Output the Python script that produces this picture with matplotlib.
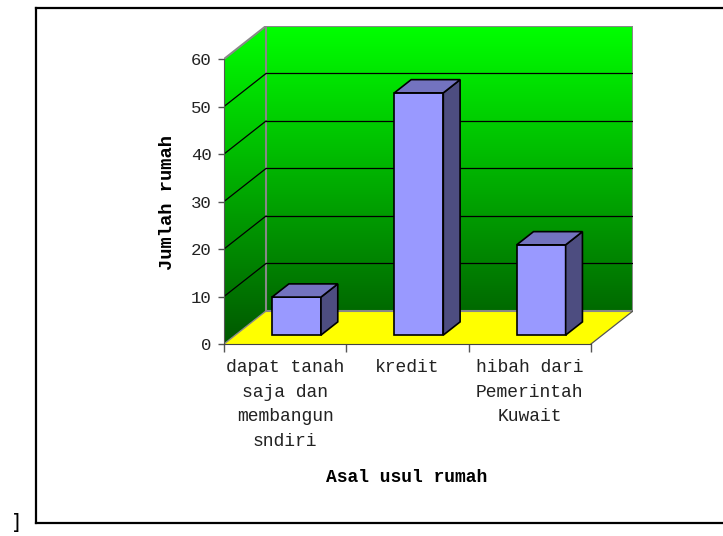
import matplotlib
matplotlib.use("Agg")
import matplotlib.pyplot as plt
from matplotlib.patches import Polygon
from matplotlib.lines import Line2D
from matplotlib.colors import LinearSegmentedColormap
import numpy as np

# --- data -------------------------------------------------------------
categories = ["dapat tanah\nsaja dan\nmembangun\nsndiri", "kredit",
              "hibah dari\nPemerintah\nKuwait"]
values = [8, 51, 19]
y_ticks = [0, 10, 20, 30, 40, 50, 60]
y_label = "Jumlah rumah"
x_label = "Asal usul rumah"

plt.rcParams["font.family"] = ["Liberation Mono", "DejaVu Sans"]

W, H = 723, 536
fig = plt.figure(figsize=(W / 100, H / 100), dpi=100)
ax = fig.add_axes([224 / W, 1 - 344 / H, (633 - 224) / W, (344 - 26) / H])

N = len(categories)
YMAX = y_ticks[-1]
DX = 0.3434      # depth offset in category units
DY = 6.95        # depth offset in value units
D0, D1 = 0.27, 0.67   # depth range of the bars
BW = 0.40             # bar width in category units


def P(x, v, d):
    """Oblique projection of (category x, value v, depth d)."""
    return (x + d * DX, v + d * DY)


ax.set_xlim(0, N + DX)
ax.set_ylim(0, YMAX + DY)

# --- walls and floor --------------------------------------------------
green = LinearSegmentedColormap.from_list("wall", ["#005800", "#00ff00"])
grad = np.linspace(0, 1, 256).reshape(-1, 1)

back = Polygon([P(0, 0, 1), P(N, 0, 1), P(N, YMAX, 1), P(0, YMAX, 1)],
               closed=True, facecolor="none", edgecolor="#888888", lw=1.5, zorder=2)
side = Polygon([P(0, 0, 0), P(0, 0, 1), P(0, YMAX, 1), P(0, YMAX, 0)],
               closed=True, facecolor="none", edgecolor="none", zorder=2)
for wall in (back, side):
    ax.add_patch(wall)
    im = ax.imshow(grad, extent=[0, N + DX, 0, YMAX + DY], origin="lower",
                   aspect="auto", cmap=green, zorder=1, interpolation="bilinear")
    im.set_clip_path(wall)

floor = Polygon([P(0, 0, 0), P(N, 0, 0), P(N, 0, 1), P(0, 0, 1)],
                closed=True, facecolor="#ffff00", edgecolor="none", zorder=1.5)
ax.add_patch(floor)
ax.plot(*zip(P(N, 0, 0), P(N, 0, 1)), color="#555555", lw=0.9, zorder=2)
ax.plot(*zip(P(0, 0, 0), P(0, 0, 1)), color="#888888", lw=1.0, zorder=2)
ax.plot(*zip(P(0, YMAX, 0), P(0, YMAX, 1)), color="#888888", lw=1.5, zorder=2)

# gridlines on back and side walls
for v in y_ticks[1:-1]:
    ax.plot(*zip(P(0, v, 1), P(N, v, 1)), color="black", lw=0.9, zorder=2)
    ax.plot(*zip(P(0, v, 0), P(0, v, 1)), color="black", lw=0.9, zorder=2)

# --- bars -------------------------------------------------------------
centers = [i + 0.5 for i in range(N)]
ax.bar([c + D0 * DX for c in centers], values, width=BW, bottom=D0 * DY,
       color="#9999ff", edgecolor="black", lw=1.2, zorder=5)
for c, h in zip(centers, values):
    xl, xr = c - BW / 2, c + BW / 2
    top = Polygon([P(xl, h, D0), P(xr, h, D0), P(xr, h, D1), P(xl, h, D1)],
                  closed=True, facecolor="#7373bf", edgecolor="black", lw=1.2, zorder=5)
    sd = Polygon([P(xr, 0, D0), P(xr, 0, D1), P(xr, h, D1), P(xr, h, D0)],
                 closed=True, facecolor="#4d4d80", edgecolor="black", lw=1.2, zorder=5)
    ax.add_patch(sd)
    ax.add_patch(top)

# --- axes -------------------------------------------------------------
for s in ("top", "right"):
    ax.spines[s].set_visible(False)
ax.spines["left"].set_bounds(0, YMAX)
ax.spines["bottom"].set_bounds(0, N)
ax.spines["left"].set_color("#555555")
ax.spines["bottom"].set_color("#444444")
ax.spines["left"].set_zorder(3)
ax.spines["bottom"].set_zorder(3)

ax.set_yticks(y_ticks)
ax.tick_params(axis="y", direction="out", length=4, width=1, color="#555555",
               pad=5, labelsize=12.5, labelcolor="#222222")
ax.set_xticks(range(N + 1))
ax.set_xticklabels([])
ax.tick_params(axis="x", which="major", direction="out", length=6, width=1,
               color="#555555")
ax.set_xticks(centers, categories, minor=True)
ax.tick_params(axis="x", which="minor", length=0, pad=11, labelsize=13,
               labelcolor="#222222")
for t in ax.get_xticklabels(minor=True):
    t.set_linespacing(1.58)
    t.set_verticalalignment("top")

ax.set_ylabel(y_label, fontsize=13.5, fontweight="bold")
ax.yaxis.label.set_verticalalignment("center")
ax.yaxis.set_label_coords((167 - 224) / 409, (344 - 202) / 318)
ax.set_xlabel(x_label, fontsize=13, fontweight="bold")
ax.xaxis.label.set_verticalalignment("center")
ax.xaxis.set_label_coords((407 - 224) / 409, (344 - 477) / 318)

# --- frame around the chart -------------------------------------------
def fx(px):
    return px / W


def fy(py):
    return 1 - py / H


frame_kw = dict(color="black", lw=1.6, transform=fig.transFigure)
fig.add_artist(Line2D([fx(36), fx(36)], [fy(8), fy(523)], **frame_kw))
fig.add_artist(Line2D([fx(36), 1], [fy(8), fy(8)], **frame_kw))
fig.add_artist(Line2D([fx(36), 1], [fy(523), fy(523)], **frame_kw))
fig.text(fx(16), fy(523), "]", fontsize=15, ha="center", va="center",
         family="DejaVu Sans")

fig.savefig("out.png", dpi=100)
